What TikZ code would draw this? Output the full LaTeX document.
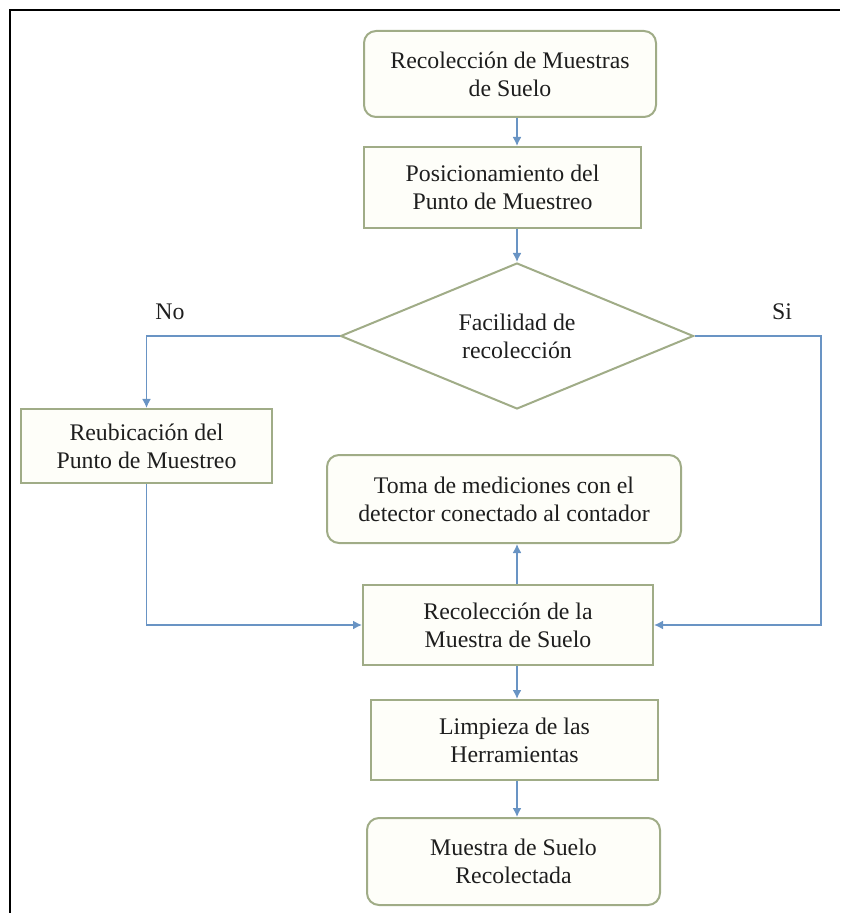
\documentclass[tikz,border=0pt]{standalone}
\usepackage{xcolor}
\usepackage{fontspec}
\setmainfont{Liberation Serif}
\usepackage{tikz}
\usetikzlibrary{arrows.meta, shapes.geometric}
\definecolor{edge}{RGB}{160,172,135}
\definecolor{flow}{RGB}{105,148,196}
\definecolor{ink}{RGB}{30,30,30}
\definecolor{paper}{RGB}{254,254,249}

\begin{document}
\begin{tikzpicture}[x=0.5pt, y=-0.5pt,
    box/.style={rectangle, draw=edge, line width=1pt, fill=paper, text=ink,
                align=center, inner sep=2pt, font=\fontsize{11.9}{14}\selectfont},
    rbox/.style={box, rounded corners=6pt},
    dec/.style={diamond, aspect=2.4, draw=edge, line width=1pt, fill=white, text=ink,
                align=center, inner sep=0pt, font=\fontsize{11.9}{14}\selectfont},
    ar/.style={-{Latex[length=4.5pt, width=4.5pt]}, draw=flow, line width=0.8pt},
    lbl/.style={text=ink, font=\fontsize{11.9}{14}\selectfont}
]
\useasboundingbox (0,0) rectangle (840,913);
\draw[line width=1.3pt] (10,913) -- (10,10) -- (840,10);

\node[rbox, minimum width=146pt, minimum height=43pt] (start) at (510,74)
    {Recolección de Muestras\\de Suelo};
\node[box, minimum width=138.5pt, minimum height=40.5pt] (pos) at (502.5,187.5)
    {Posicionamiento del\\Punto de Muestreo};
\node[dec, minimum width=176.5pt, minimum height=73pt] (ease) at (517,336)
    {Facilidad de\\recolección};
\node[box, minimum width=125.5pt, minimum height=37pt] (move) at (146.5,446)
    {Reubicación del\\Punto de Muestreo};
\node[rbox, minimum width=177pt, minimum height=44pt] (meas) at (504,499)
    {Toma de mediciones con el\\detector conectado al contador};
\node[box, minimum width=145pt, minimum height=40pt] (take) at (508,625)
    {Recolección de la\\Muestra de Suelo};
\node[box, minimum width=143.5pt, minimum height=40pt] (clean) at (514.5,740)
    {Limpieza de las\\Herramientas};
\node[rbox, minimum width=146.5pt, minimum height=43.5pt] (done) at (513.5,861.5)
    {Muestra de Suelo\\Recolectada};

\coordinate (axis) at (517,0);
\coordinate (yes) at (821,625);

\draw[ar] (start.south -| axis) -- (pos.north -| axis);
\draw[ar] (pos.south -| ease.north) -- (ease.north);
\draw[ar] (ease.west) -| (move.north);
\draw[ar] (ease.east) -| (yes) -- (take.east);
\draw[ar] (move.south) |- (take.west);
\draw[ar] (take.north -| axis) -- (meas.south -| axis);
\draw[ar] (take.south -| axis) -- (clean.north -| axis);
\draw[ar] (clean.south -| axis) -- (done.north -| axis);

\node[lbl] (no) at (170,312) {No};
\node[lbl] (si) at (782,312) {Si};
\end{tikzpicture}
\end{document}
